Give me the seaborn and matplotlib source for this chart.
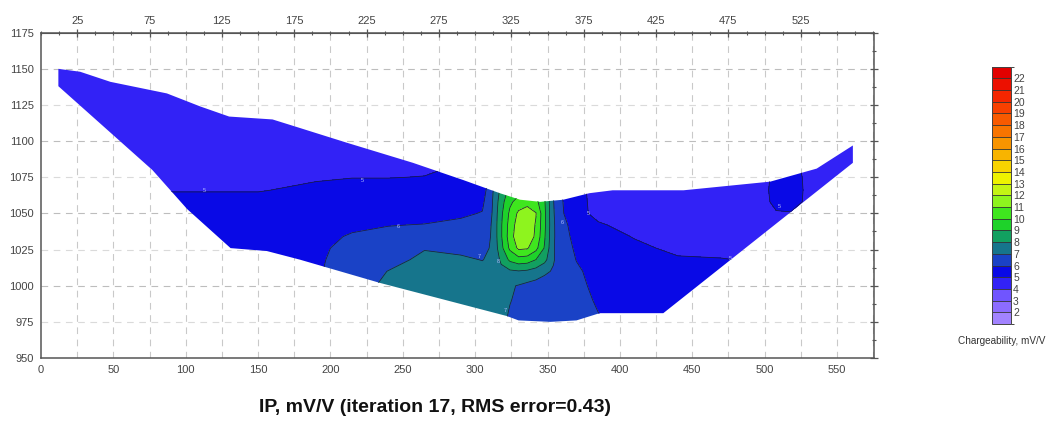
import numpy as np
import matplotlib
matplotlib.use("Agg")
import matplotlib.pyplot as plt
import seaborn as sns
from matplotlib.colors import ListedColormap, BoundaryNorm
from matplotlib.patches import Polygon
from matplotlib.cm import ScalarMappable

# ---------------- data ----------------
x_nodes = [0, 50, 100, 150, 190, 215, 240, 265, 290, 305, 312, 318, 324, 330, 336,
           342, 348, 354, 360, 370, 385, 410, 440, 470, 495, 508, 518, 530, 575]
y_nodes = [970, 980, 990, 1000, 1010, 1018, 1026, 1034, 1042, 1050, 1058, 1066,
           1075, 1090, 1120, 1160]

# chargeability (mV/V) read per x-node column, bottom (970) to top (1160)
ip_columns = [
    [5.5, 5.5, 5.5, 5.5, 5.5, 5.5, 5.5, 5.5, 5.5, 5.5, 5.3, 4.95, 4.7, 4.55, 4.5, 4.5],
    [5.5, 5.5, 5.5, 5.5, 5.5, 5.5, 5.5, 5.5, 5.5, 5.5, 5.3, 4.95, 4.7, 4.55, 4.5, 4.5],
    [5.5, 5.5, 5.5, 5.5, 5.5, 5.5, 5.5, 5.5, 5.5, 5.5, 5.3, 4.95, 4.7, 4.55, 4.5, 4.5],
    [5.65, 5.65, 5.65, 5.65, 5.65, 5.65, 5.65, 5.65, 5.6, 5.5, 5.3, 4.95, 4.7, 4.55, 4.5, 4.5],
    [5.9, 5.9, 5.9, 5.9, 5.88, 5.85, 5.8, 5.7, 5.55, 5.45, 5.3, 5.2, 4.9, 4.6, 4.5, 4.5],
    [6.6, 6.6, 6.6, 6.6, 6.5, 6.4, 6.3, 6.1, 5.8, 5.6, 5.45, 5.3, 4.98, 4.6, 4.5, 4.5],
    [7.3, 7.3, 7.3, 7.2, 7.02, 6.7, 6.5, 6.25, 5.97, 5.7, 5.5, 5.3, 4.98, 4.6, 4.5, 4.5],
    [7.5, 7.5, 7.5, 7.45, 7.35, 7.2, 6.95, 6.5, 6.03, 5.7, 5.5, 5.3, 5.02, 4.7, 4.5, 4.5],
    [7.45, 7.45, 7.45, 7.4, 7.3, 7.1, 6.85, 6.5, 6.2, 5.85, 5.6, 5.4, 5.2, 4.9, 4.6, 4.5],
    [7.4, 7.4, 7.4, 7.35, 7.2, 6.98, 6.8, 6.6, 6.4, 6.05, 5.8, 5.5, 5.3, 5.0, 4.7, 4.5],
    [7.45, 7.45, 7.45, 7.4, 7.3, 7.15, 7.1, 7.1, 7.1, 7.05, 7.0, 6.9, 6.5, 5.5, 4.8, 4.5],
    [7.35, 7.3, 7.4, 7.3, 7.7, 8.2, 8.7, 8.9, 8.9, 8.8, 8.6, 8.3, 7.5, 6.0, 5.0, 4.5],
    [6.9, 6.9, 7.05, 7.1, 7.85, 9.2, 10.2, 10.5, 10.4, 10.2, 9.8, 9.3, 8.0, 6.5, 5.0, 4.5],
    [6.7, 6.7, 6.8, 6.95, 7.95, 9.6, 11.2, 11.7, 11.5, 11.2, 10.4, 9.6, 8.2, 6.5, 5.0, 4.5],
    [6.6, 6.6, 6.65, 6.75, 7.85, 9.5, 11.1, 11.7, 11.75, 11.6, 10.6, 9.6, 8.2, 6.5, 5.0, 4.5],
    [6.55, 6.55, 6.55, 6.6, 7.6, 9.0, 10.3, 10.8, 10.9, 11.05, 10.3, 9.5, 8.1, 6.4, 5.0, 4.5],
    [6.5, 6.5, 6.5, 6.5, 7.2, 8.3, 8.9, 9.1, 9.2, 9.2, 9.1, 8.8, 7.8, 6.3, 5.0, 4.5],
    [6.45, 6.45, 6.45, 6.45, 6.9, 7.1, 7.1, 7.15, 7.15, 7.1, 7.05, 7.0, 6.6, 6.0, 5.0, 4.5],
    [6.4, 6.4, 6.4, 6.4, 6.5, 6.4, 6.3, 6.25, 6.2, 6.1, 6.05, 6.0, 5.8, 5.5, 4.9, 4.5],
    [6.3, 6.3, 6.3, 6.2, 6.1, 5.98, 5.9, 5.8, 5.7, 5.3, 5.3, 5.25, 5.2, 5.0, 4.7, 4.5],
    [6.02, 6.02, 5.9, 5.8, 5.75, 5.7, 5.65, 5.4, 5.1, 4.75, 4.7, 4.7, 4.65, 4.6, 4.5, 4.5],
    [5.7, 5.7, 5.7, 5.65, 5.6, 5.45, 5.2, 4.95, 4.7, 4.6, 4.6, 4.6, 4.6, 4.5, 4.5, 4.5],
    [5.6, 5.6, 5.6, 5.5, 5.3, 5.1, 4.8, 4.65, 4.6, 4.6, 4.6, 4.6, 4.6, 4.5, 4.5, 4.5],
    [5.5, 5.5, 5.5, 5.4, 5.2, 5.05, 4.7, 4.6, 4.6, 4.6, 4.6, 4.6, 4.6, 4.5, 4.5, 4.5],
    [5.2, 5.2, 5.2, 5.2, 5.2, 4.9, 4.7, 4.7, 4.7, 4.7, 4.7, 4.7, 4.7, 4.6, 4.5, 4.5],
    [4.7, 4.7, 4.7, 4.7, 4.7, 4.7, 4.7, 4.7, 4.75, 4.95, 5.15, 5.2, 5.15, 5.02, 4.6, 4.5],
    [4.7, 4.7, 4.7, 4.7, 4.7, 4.7, 4.7, 4.7, 4.75, 4.97, 5.2, 5.25, 5.2, 5.1, 4.6, 4.5],
    [4.7, 4.7, 4.7, 4.7, 4.7, 4.7, 4.7, 4.7, 4.7, 4.8, 4.9, 4.9, 4.9, 4.85, 4.6, 4.5],
    [4.6, 4.6, 4.6, 4.6, 4.6, 4.6, 4.6, 4.6, 4.6, 4.6, 4.6, 4.6, 4.6, 4.6, 4.6, 4.5],
]

# section outline (topography on top, model base below)
section_x = [12, 27, 48, 87, 110, 130, 160, 176, 211, 257, 292, 317, 331, 345, 361,
             379, 395, 444, 504, 536, 561, 561, 430, 386, 370, 352, 330, 322, 234,
             179, 156, 131, 101, 77, 12]
section_y = [1150, 1148, 1141, 1133, 1124, 1117, 1115, 1110, 1099, 1085, 1073, 1064,
             1059.5, 1058, 1059.5, 1064, 1066, 1066, 1072, 1081, 1097, 1085, 981, 981,
             976, 975, 976, 979, 1002, 1018, 1024, 1026, 1053, 1080, 1138]

levels = list(range(1, 24))
level_colors = ["#a283ff", "#8c6cff", "#7055ff", "#3222f6", "#0909e6", "#1a42c6",
                "#16758c", "#12a060", "#1ed22a", "#3fe61e", "#8ef41e", "#c4f414",
                "#eef200", "#f8d400", "#f8b400", "#f89400", "#f87400", "#f85a00",
                "#f84000", "#f42600", "#ec1000", "#e20000"]
cbar_ticks = list(range(2, 23))
top_ticks = list(range(25, 526, 50))

label_x = [113, 222, 247, 303, 316, 321, 360, 378, 476, 510]
label_y = [1066, 1073, 1041, 1020, 1017, 983, 1044, 1050, 1019, 1055]
label_txt = ["5", "5", "6", "7", "8", "7", "6", "5", "5", "5"]

title = "IP, mV/V (iteration 17, RMS error=0.43)"

# ---------------- style ----------------
sns.set_style("white")
plt.rcParams["font.family"] = ["Liberation Sans", "DejaVu Sans"]

W, H = 1062, 428
fig = plt.figure(figsize=(W / 100, H / 100), dpi=100)
ax = fig.add_axes([41 / W, 1 - 358 / H, (874 - 41) / W, (358 - 32.7) / H])

cmap = ListedColormap(sns.color_palette(level_colors))
norm = BoundaryNorm(levels, cmap.N)

X, Y = np.meshgrid(np.array(x_nodes, float), np.array(y_nodes, float))
Z = np.array(ip_columns, float).T

# grid
for gx in np.arange(25, 576, 25):
    ax.axvline(gx, color="#c9c9c9", lw=0.8, ls=(0, (6, 5)), zorder=0)
for gy in np.arange(975, 1175, 25):
    c = "#bdbdbd" if gy % 50 == 0 else "#dadada"
    ax.axhline(gy, color=c, lw=0.8, ls=(0, (6, 5)), zorder=0)

cs = ax.contourf(X, Y, Z, levels=levels, cmap=cmap, norm=norm, zorder=2)
cl = ax.contour(X, Y, Z, levels=levels[1:-1], colors="#1c1c40", linewidths=0.55, zorder=3)
clip = Polygon(np.column_stack([section_x, section_y]), closed=True,
               transform=ax.transData, facecolor="none", edgecolor="none")
ax.add_patch(clip)
cs.set_clip_path(clip)
cl.set_clip_path(clip)

for lx, ly, lt in zip(label_x, label_y, label_txt):
    ax.text(lx, ly, lt, fontsize=4, color="#b4bcff", ha="center", va="center", zorder=4)

ax.set_xlim(0, 575.6)
ax.set_ylim(950, 1175)
ax.set_xticks(np.arange(0, 576, 50))
ax.set_xticks(np.arange(0, 576, 12.5), minor=True)
ax.set_yticks(np.arange(950, 1176, 25))
ax.set_yticks(np.arange(950, 1176, 12.5), minor=True)
ax.tick_params(which="both", direction="inout", color="#555555", right=True,
               top=False, labelright=False)
ax.tick_params(which="major", length=6, width=0.9, labelsize=8, labelcolor="#444444", pad=2)
ax.tick_params(which="minor", length=3, width=0.8)

sec = ax.secondary_xaxis("top")
sec.set_xticks(top_ticks)
sec.set_xticks(np.arange(0, 576, 12.5), minor=True)
sec.tick_params(which="both", direction="inout", color="#555555")
sec.tick_params(which="major", length=6, width=0.9, labelsize=8, labelcolor="#444444", pad=2)
sec.tick_params(which="minor", length=3, width=0.8)
for s in sec.spines.values():
    s.set_color("#555555")

for s in ax.spines.values():
    s.set_color("#555555")
    s.set_linewidth(1.1)

# colorbar
cax = fig.add_axes([992 / W, 1 - 324 / H, 19 / W, (324 - 66.7) / H])
cb = fig.colorbar(ScalarMappable(norm=norm, cmap=cmap), cax=cax, boundaries=levels,
                  ticks=cbar_ticks, drawedges=True)
cb.outline.set_edgecolor("#444444")
cb.outline.set_linewidth(0.7)
cb.dividers.set_color("#333333")
cb.dividers.set_linewidth(0.6)
cax.tick_params(length=0, labelsize=7.5, labelcolor="#444444", pad=1.5)
fig.text(1002 / W, 1 - 341 / H, "Chargeability, mV/V", fontsize=7.2, color="#333333",
         ha="center", va="center")

fig.text(435 / W, 1 - 408 / H, title, fontsize=14, fontweight="bold", color="#111111",
         ha="center", va="center")

fig.savefig("out.png", dpi=100)
